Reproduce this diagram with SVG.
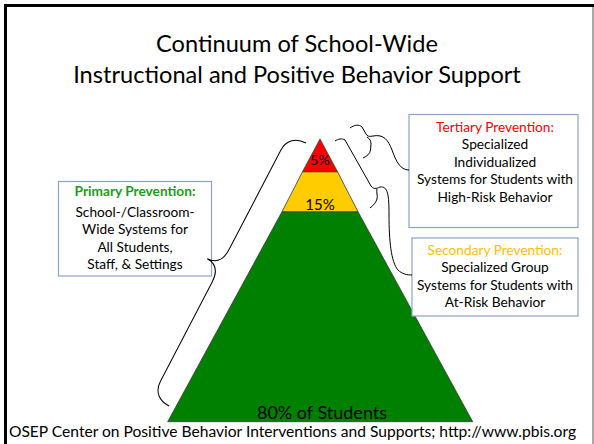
<svg xmlns="http://www.w3.org/2000/svg" width="594" height="444" viewBox="0 0 594 444">
<style>
text{font-family:Lato,"Liberation Sans",sans-serif;fill:#000;text-anchor:middle}
.box{fill:#fff;stroke:#8aa4c8;stroke-width:1.2}
.lbl{font-size:13.7px}
.br{fill:none;stroke:#000;stroke-width:1}
.tier{stroke:#3a3a3a;stroke-width:0.8}
</style>
<rect x="0" y="0" width="594" height="444" fill="#fff"/>
<g id="frame">
<rect x="4" y="4" width="590" height="3" fill="#000"/>
<rect x="4" y="4" width="3" height="440" fill="#000"/>
<rect x="592.5" y="7" width="1" height="437" fill="#555"/>
</g>
<g id="title">
<text x="297" y="52" font-size="23.6">Continuum of School-Wide</text>
<text x="297" y="83" font-size="23.6">Instructional and Positive Behavior Support</text>
</g>
<g id="pyramid">
<g id="tier-green"><polygon class="tier" points="282,211.7 358,211.7 472.7,421.7 167.7,421.7" fill="#008000"/>
<text x="322" y="419" font-size="18">80% of Students</text></g>
<g id="tier-yellow"><polygon class="tier" points="302.5,171.7 337.5,171.7 358,211.7 282,211.7" fill="#ffcc00"/>
<text x="320" y="210" font-size="15">15%</text></g>
<g id="tier-red"><polygon class="tier" points="320,139 337.5,171.7 302.5,171.7" fill="#ff0000"/>
<text x="320" y="165" font-size="14">5%</text></g>
</g>
<g id="primary">
<rect class="box" x="58.5" y="181.5" width="153" height="94.5"/>
<text class="lbl" x="135" y="196" font-weight="bold" style="fill:#1c9c1c">Primary Prevention:</text>
<text class="lbl" x="135" y="216.5">School-/Classroom-</text>
<text class="lbl" x="135" y="234">Wide Systems for</text>
<text class="lbl" x="135" y="251.5">All Students,</text>
<text class="lbl" x="135" y="269">Staff, &amp; Settings</text>
</g>
<g id="tertiary">
<rect class="box" x="409" y="114.5" width="169" height="113"/>
<text class="lbl" x="495" y="131.5" style="fill:#ff0000">Tertiary Prevention:</text>
<text class="lbl" x="495" y="149">Specialized</text>
<text class="lbl" x="495" y="166.5">Individualized</text>
<text class="lbl" x="495" y="184">Systems for Students with</text>
<text class="lbl" x="495" y="201.5">High-Risk Behavior</text>
</g>
<g id="secondary">
<rect class="box" x="412" y="238" width="166" height="78"/>
<text class="lbl" x="495" y="255" style="fill:#ffc000">Secondary Prevention:</text>
<text class="lbl" x="495" y="272">Specialized Group</text>
<text class="lbl" x="495" y="289.5">Systems for Students with</text>
<text class="lbl" x="495" y="307">At-Risk Behavior</text>
</g>
<g id="connectors">
<path class="br" transform="translate(169,406) rotate(-62.49)" d="M0,0 C0,-11 6,-19 18,-19 L130,-19 C141,-19 148,-24 148.25,-34 C148.5,-24 155.5,-19 166.5,-19 L278.5,-19 C290.5,-19 296.5,-11 296.5,0"/>
<path class="br" d="M350,128 C354,125 359,124 362,127 L366,134 C367,136 369,137 373,136 M367,137 C370,139 371,141 371,144 L370.5,150 C370,154 367,156 363,158"/>
<path class="br" d="M373,136 C384,134 388,140 392,150 C396,161 400,170 409,170"/>
<path class="br" d="M335,141 C338,139 342,138 345,140 L371,186 C373,189 376,189 380,187 M377,189 C376,192 378,196 377,199 C376,202 374,205 370,208"/>
<path class="br" d="M380,187 C388,186 389,195 389,215 C389,240 391,262 398,270 C402,274 407,275 412,275"/>
</g>
<g id="footer">
<text x="292.5" y="437" font-size="15.6">OSEP Center on Positive Behavior Interventions and Supports; http://www.pbis.org</text>
</g>
</svg>
